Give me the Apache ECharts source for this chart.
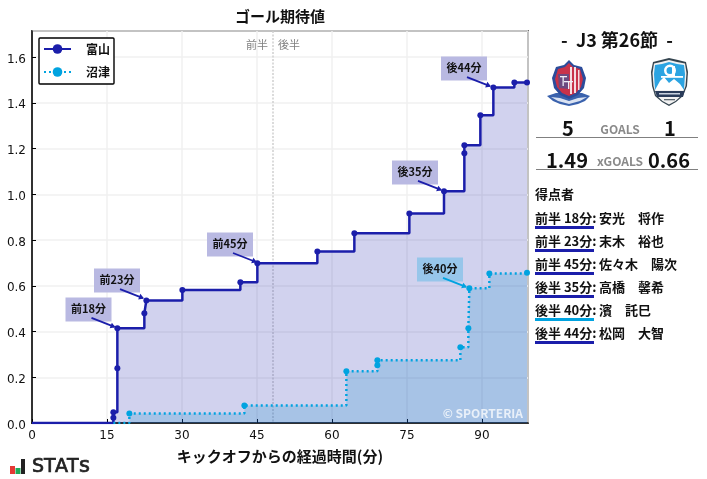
<!DOCTYPE html>
<html>
<head>
<meta charset="utf-8">
<style>
  html, body { margin: 0; padding: 0; background: #fff; }
  #chart { width: 707px; height: 479px; }
</style>
<script src="https://cdn.jsdelivr.net/npm/echarts@6/dist/echarts.min.js"></script>
</head>
<body>
<div id="chart"></div>
<script>
// チーム名
const teamNames = ['富山', '沼津']

// ゴール期待値の累積 (分, xG)
const toyamaMinutes = [0, 16.27, 16.27, 17.07, 17.07, 22.47, 22.87, 30.07, 41.67, 45.07, 57.07, 64.47, 75.47, 82.4, 86.47, 86.47, 89.67, 92.27, 96.47, 99]
const toyamaXg = [0, 0.023, 0.047, 0.239, 0.414, 0.48, 0.536, 0.581, 0.615, 0.698, 0.75, 0.829, 0.916, 1.013, 1.179, 1.214, 1.345, 1.467, 1.489, 1.489]
const numazuMinutes = [16.27, 19.47, 42.47, 62.87, 69.07, 69.07, 85.67, 87.27, 87.47, 91.47, 99]
const numazuXg = [0, 0.042, 0.077, 0.226, 0.252, 0.274, 0.331, 0.414, 0.589, 0.654, 0.657]

// ゴールの注釈
const goalLabels = ['前18分', '前23分', '前45分', '後35分', '後40分', '後44分']
const goalMinutes = [16.5, 22.2, 44.8, 81.8, 86.8, 91.6]
const goalXg = [0.42, 0.546, 0.704, 1.019, 0.595, 1.473]
const goalTeams = [0, 0, 0, 0, 1, 0]

const halfTimeMinute = 48.2

// 右パネル
const matchTitle = '-  J3 第26節  -'
const goals = ['5', '1']
const xGoals = ['1.49', '0.66']
const scorerTimes = ['前半 18分:', '前半 23分:', '前半 45分:', '後半 35分:', '後半 40分:', '後半 44分:']
const scorerNames = ['安光　将作', '末木　裕也', '佐々木　陽次', '高橋　馨希', '濱　託巳', '松岡　大智']

const TEAM_COLORS = ['#1b1eaa', '#00a3e0']
const BOX_COLORS = ['#b9b9e2', '#97c6ea']
const JP = '"Noto Sans CJK JP", sans-serif'
const NUM = '"DejaVu Sans", sans-serif'

const zip = (xs, ys) => xs.map((x, i) => [x, ys[i]])
// 原点の点は軸に隠れるので描かない
const dotSize = (value, params) => (params.dataIndex === 0 ? 0 : 6)

// ゴール注釈 (箱 + 矢印)
function renderGoal(params, api) {
  const team = api.value(2)
  const [px, py] = api.coord([api.value(0), api.value(1)])
  const color = TEAM_COLORS[team]
  const cx = px - 26
  const cy = py - 17.5
  // 矢印の向き
  const sx = px - 23
  const sy = py - 9
  const len = Math.hypot(23, 9)
  const ux = 23 / len
  const uy = 9 / len
  return {
    type: 'group',
    children: [
      { type: 'rect', shape: { x: cx - 23, y: cy - 12, width: 46, height: 24 }, style: { fill: BOX_COLORS[team] } },
      {
        type: 'text',
        style: {
          x: cx, y: cy - 0.5, text: goalLabels[params.dataIndex], fill: '#111',
          font: 'bold 11px ' + JP, align: 'center', verticalAlign: 'middle'
        }
      },
      { type: 'line', shape: { x1: sx, y1: sy, x2: px, y2: py }, style: { stroke: color, lineWidth: 1.8 } },
      {
        type: 'polygon',
        shape: {
          points: [
            [px + ux, py + uy],
            [px - ux * 4 - uy * 3, py - uy * 4 + ux * 3],
            [px - ux * 4 + uy * 3, py - uy * 4 - ux * 3]
          ]
        },
        style: { fill: color }
      }
    ]
  }
}

// ハーフタイムの線と前半/後半
function renderHalf(params, api) {
  const [x, yBottom] = api.coord([api.value(0), 0])
  const top = params.coordSys.y
  const font = '11px ' + JP
  return {
    type: 'group',
    children: [
      {
        type: 'line',
        shape: { x1: x, y1: top, x2: x, y2: yBottom },
        style: { stroke: '#cfcfcf', lineWidth: 1.5, lineDash: [2, 1.5] }
      },
      { type: 'text', style: { x: x - 5, y: top + 14, text: '前半', fill: '#808080', font, align: 'right', verticalAlign: 'middle' } },
      { type: 'text', style: { x: x + 5, y: top + 14, text: '後半', fill: '#808080', font, align: 'left', verticalAlign: 'middle' } }
    ]
  }
}

const txt = (x, y, text, font, fill, align) => ({
  type: 'text', x, y, z: 20,
  style: { text, font, fill: fill || '#111', align: align || 'center', verticalAlign: 'middle' }
})
const poly = (points, fill) => ({ type: 'polygon', z: 20, shape: { points }, style: { fill } })
const bar = (x, y, width, height, fill) => ({ type: 'rect', z: 20, shape: { x, y, width, height }, style: { fill } })

// 富山エンブレム
const toyamaCrest = [
  poly([[547, 96], [556, 93], [582, 93], [590, 96], [585, 101], [578, 104], [569, 106], [560, 104], [553, 101]], '#3a62ad'),
  poly([[569, 60], [574, 65], [582, 67], [586, 78], [584, 88], [578, 95], [569, 99], [560, 95], [554, 88], [552, 78], [556, 67], [564, 65]], '#2b4c9b'),
  poly([[569, 63], [573, 67], [580, 69], [583, 79], [581, 87], [576, 93], [569, 96], [562, 93], [557, 87], [555, 79], [558, 69], [565, 67]], '#c8324a'),
  bar(570, 67, 2, 27, '#f4dde2'), bar(574, 67, 2, 26, '#f4dde2'), bar(578, 70, 1.5, 20, '#f4dde2'),
  poly([[558, 74], [569, 74], [569, 89], [559, 88]], '#6b4a80'),
  bar(560, 76, 7, 1.3, '#eeeef6'), bar(562.5, 76, 1.3, 10, '#eeeef6'), bar(564, 81, 9, 1.3, '#eeeef6'), bar(568, 81, 1.3, 8, '#eeeef6'),
  poly([[551, 97], [560, 98], [569, 101], [578, 98], [587, 97], [580, 101], [569, 104], [558, 101]], '#dbe3f2')
]

// 沼津エンブレム
const numazuCrest = [
  poly([[669, 58], [678, 60], [686, 62], [688, 72], [687, 86], [683, 96], [676, 102], [669, 106], [662, 102], [655, 96], [652, 86], [651, 72], [653, 62], [661, 60]], '#34444f'),
  poly([[669, 60], [677, 62], [685, 63.5], [686.5, 73], [685.5, 86], [682, 95], [675.5, 101], [669, 104.5], [662.5, 101], [656, 95], [653.5, 86], [652.5, 73], [654, 63.5], [661, 62]], '#f2f2f2'),
  poly([[669, 62], [677, 64], [684, 65], [685, 74], [684, 90], [655, 90], [654, 74], [655, 65], [662, 64]], '#2ca4e2'),
  poly([[655, 90], [660, 81], [664, 77], [669, 83], [674, 79], [680, 84], [684, 90]], '#fff'),
  { type: 'ring', z: 20, shape: { cx: 670, cy: 70.5, r: 6, r0: 3.5 }, style: { fill: '#fff' } },
  bar(672, 66, 3, 10, '#fff'), bar(661, 76, 22, 1.8, '#fff'),
  poly([[655, 91], [684.5, 91], [683, 97], [657, 97]], '#2a3c5a'),
  bar(659, 93, 21, 1.5, '#c8d2e0'),
  bar(664, 99, 11, 1.3, '#5b6770')
]

// STATs ロゴ (文字間が広いので1文字ずつ)
const statsLetters = ['S', 'T', 'A', 'T', 's']
const statsLetterX = [32, 44, 55, 67, 79]
const statsLogo = [
  bar(10, 466, 5, 8, '#e53935'),
  bar(15.5, 468, 5, 6, '#1faa59'),
  bar(21, 459, 4, 15, '#222'),
  ...statsLetters.map((c, i) => ({
    type: 'text', x: statsLetterX[i], y: 467, z: 20,
    style: { text: c, font: (i === 4 ? '21px ' : '19px ') + NUM, fill: '#222', stroke: '#222', lineWidth: 0.7, align: 'left', verticalAlign: 'middle' }
  }))
]

// 右パネル
const panel = [
  txt(617, 40, matchTitle, 'bold 18px ' + JP),
  txt(568, 128, goals[0], 'bold 20px ' + JP),
  txt(620, 129, 'GOALS', 'bold 12px ' + JP, '#8a8a8a'),
  txt(670, 128, goals[1], 'bold 20px ' + JP),
  bar(536, 137, 162, 1, '#808080'),
  txt(567, 160, xGoals[0], 'bold 20px ' + JP),
  txt(620, 161, 'xGOALS', 'bold 12px ' + JP, '#8a8a8a'),
  txt(669, 160, xGoals[1], 'bold 20px ' + JP),
  bar(536, 169, 162, 1, '#808080'),
  txt(535, 194, '得点者', 'bold 13px ' + JP, '#111', 'left')
]
scorerTimes.forEach((t, i) => {
  const y = 218.5 + i * 23
  const team = goalTeams[i]
  panel.push(txt(535, y, t, 'bold 13px ' + JP, '#111', 'left'))
  panel.push(txt(599, y, scorerNames[i], 'bold 13px ' + JP, '#111', 'left'))
  panel.push(bar(535, y + 7.5, 59, 3, TEAM_COLORS[team]))
})

const option = {
  animation: false,
  backgroundColor: '#fff',
  textStyle: { fontFamily: JP },
  title: {
    text: 'ゴール期待値',
    left: 275,
    top: 4,
    textAlign: 'center',
    textStyle: { fontFamily: JP, fontSize: 15, fontWeight: 'bold', color: '#111' }
  },
  legend: {
    left: 39,
    top: 38,
    orient: 'vertical',
    padding: [5, 4, 6, 4],
    itemWidth: 27,
    itemHeight: 12,
    itemGap: 11,
    borderColor: '#000',
    borderWidth: 1.4,
    borderRadius: 1,
    backgroundColor: '#fff',
    textStyle: { fontFamily: JP, fontSize: 12, fontWeight: 'bold', color: '#111', padding: [0, 0, 0, 10] },
    data: teamNames
  },
  grid: {
    left: 32, top: 31, width: 496, height: 392,
    show: true, borderColor: '#000', borderWidth: 1.5, backgroundColor: 'transparent'
  },
  xAxis: {
    type: 'value',
    min: 0,
    max: 99.2,
    interval: 15,
    name: 'キックオフからの経過時間(分)',
    nameLocation: 'middle',
    nameGap: 26,
    nameTextStyle: { fontFamily: JP, fontSize: 15, fontWeight: 'bold', color: '#111' },
    axisLine: { show: true, lineStyle: { color: '#000', width: 1.5 } },
    axisTick: { show: true, inside: true, length: 4, lineStyle: { color: '#000' } },
    axisLabel: { fontFamily: NUM, fontSize: 12, color: '#111', margin: 7, showMaxLabel: false },
    splitLine: { show: true, lineStyle: { color: '#f0f0f0', width: 1.5 } }
  },
  yAxis: {
    type: 'value',
    min: 0,
    max: 1.7137,
    interval: 0.2,
    axisLine: { show: true, lineStyle: { color: '#000', width: 1.5 } },
    axisTick: { show: true, inside: true, length: 4, lineStyle: { color: '#000' } },
    axisLabel: {
      color: '#111',
      margin: 6,
      showMaxLabel: false,
      formatter: v => '{a|' + v.toFixed(1) + '}',
      rich: { a: { fontFamily: NUM, fontSize: 12, color: '#111', padding: [5, 0, 0, 0] } }
    },
    splitLine: { show: true, lineStyle: { color: '#f0f0f0', width: 1.5 } }
  },
  series: [
    {
      name: 'half',
      type: 'custom',
      z: 1,
      renderItem: renderHalf,
      encode: { x: 0 },
      data: [[halfTimeMinute]],
      silent: true
    },
    {
      name: teamNames[0],
      type: 'line',
      z: 3,
      step: 'end',
      data: zip(toyamaMinutes, toyamaXg),
      symbol: 'circle',
      symbolSize: dotSize,
      showSymbol: true,
      lineStyle: { color: TEAM_COLORS[0], width: 2.5 },
      itemStyle: { color: TEAM_COLORS[0] },
      areaStyle: { color: TEAM_COLORS[0], opacity: 0.2 }
    },
    {
      name: teamNames[1],
      type: 'line',
      z: 4,
      step: 'end',
      data: zip(numazuMinutes, numazuXg),
      symbol: 'circle',
      symbolSize: dotSize,
      showSymbol: true,
      lineStyle: { color: TEAM_COLORS[1], width: 2.5, type: [2, 3] },
      itemStyle: { color: TEAM_COLORS[1] },
      areaStyle: { color: '#0087c8', opacity: 0.2 }
    },
    {
      name: 'goals',
      type: 'custom',
      z: 6,
      clip: false,
      renderItem: renderGoal,
      encode: { x: 0, y: 1 },
      data: goalMinutes.map((m, i) => [m, goalXg[i], goalTeams[i]]),
      silent: true
    }
  ],
  graphic: [
    txt(523, 413, '© SPORTERIA', 'bold 12px ' + JP, 'rgba(255,255,255,0.75)', 'right'),
    ...toyamaCrest,
    ...numazuCrest,
    ...statsLogo,
    ...panel
  ]
}

const chart = echarts.init(document.getElementById('chart'), null, { renderer: 'canvas' })
chart.setOption(option)
window.addEventListener('resize', () => chart.resize())
</script>
</body>
</html>
